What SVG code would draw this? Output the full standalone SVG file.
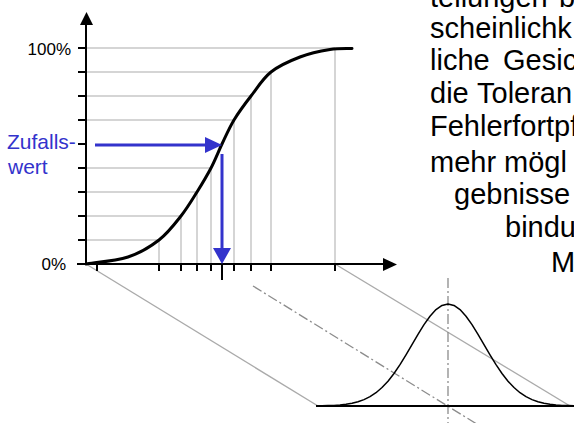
<svg xmlns="http://www.w3.org/2000/svg" width="574" height="423" viewBox="0 0 574 423">
<style>
.grid{stroke:#c8c8c8;stroke-width:1.5;fill:none}
.proj{stroke:#aaaaaa;stroke-width:1.4;fill:none}
.dashdot{stroke:#8c8c8c;stroke-width:1.3;fill:none;stroke-dasharray:10 3 2 3}
.axis{stroke:#000;stroke-width:2;fill:none}
.blue{stroke:#3333cc;stroke-width:3;fill:none}
.lbl{font-family:"Liberation Sans",Arial,sans-serif;font-size:17px;fill:#000}
.bl{font-family:"Liberation Sans",Arial,sans-serif;font-size:21px;fill:#3333cc}
.body{font-family:"Liberation Sans",Arial,sans-serif;font-size:29px;fill:#000}
</style>
<rect width="574" height="423" fill="#fff"/>
<g id="text">
<text class="body" y="7"><tspan x="430">teilungen</tspan><tspan x="559">b</tspan></text>
<text class="body" x="430" y="38">scheinlichk</text>
<text class="body" y="70"><tspan x="430">liche</tspan><tspan x="503">Gesic</tspan></text>
<text class="body" y="103"><tspan x="430">die</tspan><tspan x="477">Toleran</tspan></text>
<text class="body" x="430" y="136">Fehlerfortpf</text>
<text class="body" y="172"><tspan x="430">mehr</tspan><tspan x="504">mögl</tspan></text>
<text class="body" x="454" y="204">gebnisse</text>
<text class="body" x="505" y="237">bindu</text>
<text class="body" x="551" y="272">M</text>
</g>
<g id="projection">
<line class="proj" x1="86" y1="264" x2="318" y2="406"/>
<line class="proj" x1="335" y1="264" x2="570" y2="406"/>
<line class="dashdot" x1="253" y1="286" x2="480" y2="426"/>
<line class="dashdot" x1="448" y1="278" x2="448" y2="423"/>
</g>
<g id="bell">
<line x1="316" y1="406" x2="574" y2="406" stroke="#000" stroke-width="2"/>
<polyline fill="none" stroke="#000" stroke-width="1.5" stroke-linejoin="round" points="316,405.9 322,405.8 328,405.6 334,405.4 340,405 346,404.3 352,403.3 358,401.8 364,399.6 370,396.6 376,392.7 382,387.5 388,381.2 394,373.5 400,364.7 406,354.9 412,344.7 418,334.3 424,324.6 430,316.2 436,309.6 442,305.4 448,304 454,305.4 460,309.6 466,316.2 472,324.6 478,334.3 484,344.7 490,354.9 496,364.7 502,373.5 508,381.2 514,387.5 520,392.7 526,396.6 532,399.6 538,401.8 544,403.3 550,404.3 556,405 562,405.4 568,405.6 574,405.8"/>
</g>
<g id="grid">
<path class="grid" d="M86 48H335M86 72H271M86 96H251M86 120H234M86 168H211M86 192H197M86 216H181M86 240H159"/>
<path class="grid" d="M335 48V264M271 72V264M251 96V264M234 120V264M211 168V264M197 192V264M181 216V264M159 240V264"/>
</g>
<g id="axes">
<path class="axis" d="M86 264V22M77 264H385"/>
<path class="axis" d="M78 48H86M78 72H86M78 96H86M78 120H86M78 144H86M78 168H86M78 192H86M78 216H86M78 240H86"/>
<path class="axis" d="M97 264V271M159 264V271M181 264V271M197 264V271M211 264V271M222 264V280M234 264V271M251 264V271M271 264V271M335 264V271"/>
<polygon points="86.5,12 80,25 93,25" fill="#000"/>
<polygon points="397,264.5 383,258 383,271" fill="#000"/>
</g>
<g id="cdf">
<path fill="none" stroke="#000" stroke-width="3" stroke-linecap="round" d="M86 264C93 262.8 115.8 261 128 257C140.2 253 150.2 246.8 159 240C167.8 233.2 174.7 224 181 216C187.3 208 192 200 197 192C202 184 206.8 176 211 168C215.2 160 218.2 152 222 144C225.8 136 229.2 128 234 120C238.8 112 244.8 104 251 96C257.2 88 262.8 78.5 271 72C279.2 65.5 290.2 60.75 300 57C309.8 53.25 321.3 50.9 330 49.5C338.7 48.1 348.3 48.7 352 48.5"/>
</g>
<g id="random-value">
<line class="blue" x1="95" y1="145" x2="207" y2="145"/>
<polygon points="222,145 205,137 205,153" fill="#3333cc"/>
<line class="blue" x1="222" y1="154" x2="222" y2="250"/>
<polygon points="222,264 213,248 231,248" fill="#3333cc"/>
</g>
<g id="labels">
<text class="lbl" x="71" y="55" text-anchor="end">100%</text>
<text class="lbl" x="66" y="270" text-anchor="end">0%</text>
<text class="bl" x="7" y="149">Zufalls-</text>
<text class="bl" x="8" y="174">wert</text>
</g>
</svg>
